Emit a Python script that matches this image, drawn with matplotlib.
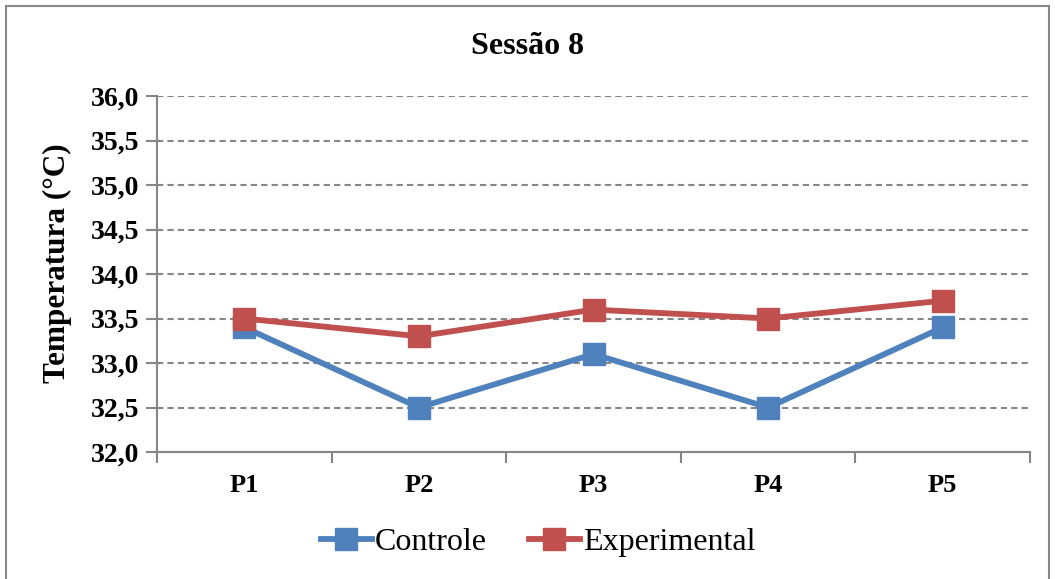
import matplotlib.pyplot as plt
import numpy as np
from matplotlib.patches import Rectangle

plt.rcParams['font.family'] = ['Liberation Serif', 'DejaVu Serif']

pontos = ["P1", "P2", "P3", "P4", "P5"]
controle = [33.4, 32.5, 33.1, 32.5, 33.4]
experimental = [33.5, 33.3, 33.6, 33.5, 33.7]
y_ticks = [32.0, 32.5, 33.0, 33.5, 34.0, 34.5, 35.0, 35.5, 36.0]

azul = "#4F81BD"
vermelho = "#C0504D"
cinza = "#868686"

fig = plt.figure(figsize=(10.55, 5.79), dpi=100)
ax = fig.add_axes([157 / 1055, 1 - 452 / 579, (1030 - 157) / 1055, (452 - 96) / 579])

# moldura cinza em volta do grafico
fig.patches.append(Rectangle((6 / 1055, -0.05), 1043 / 1055, 1 - 6 / 579 + 0.05,
                             transform=fig.transFigure, fill=False,
                             edgecolor=cinza, linewidth=1.5))

x = np.arange(1, len(pontos) + 1)
ax.plot(x, controle, color=azul, linewidth=4.2, marker="s", markersize=15.5,
        label="Controle", zorder=3)
ax.plot(x, experimental, color=vermelho, linewidth=4.2, marker="s", markersize=15.5,
        label="Experimental", zorder=4)

ax.set_xlim(0.5, len(pontos) + 0.5)
ax.set_ylim(32.0, 36.0)
ax.set_yticks(y_ticks)
ax.set_yticklabels([f"{v:.1f}".replace(".", ",") for v in y_ticks])
ax.set_xticks(x)
ax.set_xticklabels(pontos)
ax.set_xticks(np.arange(0.5, len(pontos) + 1), minor=True)

ax.tick_params(axis="x", which="major", length=0, pad=16, labelsize=19)
ax.tick_params(axis="x", which="minor", length=8, width=1.5, color=cinza, direction="out")
ax.tick_params(axis="y", length=8, width=1.5, color=cinza, direction="out", pad=5, labelsize=20)
for lab in ax.get_xticklabels() + ax.get_yticklabels():
    lab.set_fontweight("bold")

ax.grid(axis="y", linestyle=(0, (3, 2)), color=cinza, linewidth=1.5)
ax.set_axisbelow(True)
for s in ["top", "right"]:
    ax.spines[s].set_visible(False)
for s in ["left", "bottom"]:
    ax.spines[s].set_color(cinza)
    ax.spines[s].set_linewidth(1.5)

ax.set_ylabel("Temperatura (°C)", fontsize=22.5, fontweight="bold", va="center")
ax.yaxis.set_label_coords(-0.114, 0.53)
fig.text(0.5, 1 - 47 / 579, "Sessão 8", ha="center", va="center", fontsize=23, fontweight="bold")

fig.legend(loc="center", bbox_to_anchor=(0.51, 1 - 542 / 579), ncol=2, frameon=False,
           fontsize=23, handlelength=1.6, handletextpad=0.1, columnspacing=1.3)

fig.savefig("out.png", dpi=100)
